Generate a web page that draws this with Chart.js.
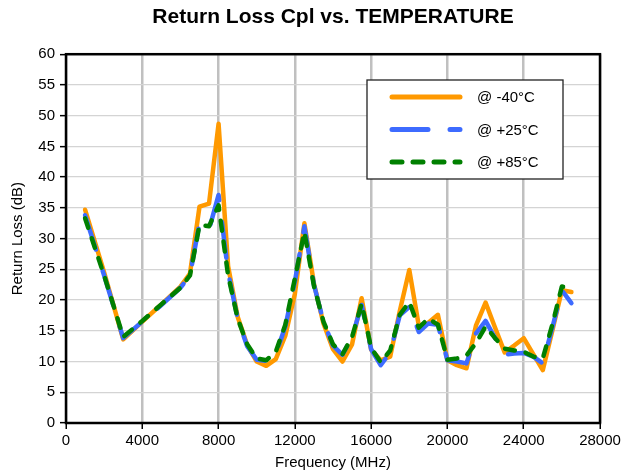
<!DOCTYPE html>
<html>
<head>
    <title>Return Loss Cpl vs. TEMPERATURE</title>
    <style>
        body { margin: 0; background: #fff; }
        #chart { display: block; }
    </style>
</head>
<body>
    <canvas id="chart" width="629" height="476"></canvas>

    <script src="https://cdn.jsdelivr.net/npm/chart.js"></script>
    <script>
        // Data
        const freq = [1000, 2000, 3000, 4000, 5000, 6000, 6500, 7000, 7500, 8000,
                      8500, 9000, 9500, 10000, 10500, 11000, 11500, 12000, 12500, 13000,
                      13500, 14000, 14500, 15000, 15500, 16000, 16500, 17000, 17500, 18000,
                      18500, 19000, 19500, 20000, 20500, 21000, 21500, 22000, 22500, 23000,
                      23500, 24000, 24500, 25000, 25500, 26000, 26500];
        const rlMinus40 = [34.7, 24.5, 13.6, 16.5, 19.3, 22.2, 24.3, 35.2, 35.7, 48.7,
                           25.5, 17.3, 12.7, 10.0, 9.3, 10.4, 14.2, 21.0, 32.5, 22.7,
                           16.2, 12.0, 10.0, 12.8, 20.3, 11.9, 10.2, 10.8, 18.2, 24.9,
                           15.8, 16.3, 17.6, 10.2, 9.4, 8.9, 15.9, 19.6, 15.5, 11.5,
                           12.6, 13.8, 11.2, 8.6, 15.0, 21.6, 21.3];
        const rlPlus25 = [33.8, 24.0, 13.8, 16.5, 19.2, 22.0, 24.0, 32.5, 31.5, 37.1,
                          24.5, 17.0, 12.5, 10.3, 10.1, 11.2, 15.7, 23.0, 32.0, 22.5,
                          16.5, 12.6, 11.1, 14.0, 19.2, 12.0, 9.4, 11.5, 17.5, 18.9,
                          14.8, 16.2, 16.0, 10.2, 10.0, 9.7, 14.6, 16.6, 13.8, 11.1,
                          11.3, 11.4, 10.8, 9.7, 15.5, 21.6, 19.5];
        const rlPlus85 = [33.3, 24.0, 14.0, 16.6, 19.3, 22.0, 24.0, 32.2, 32.0, 35.4,
                          24.0, 17.0, 12.8, 10.5, 10.2, 11.6, 16.0, 23.5, 31.1, 22.3,
                          16.5, 12.8, 11.2, 14.0, 19.4, 12.2, 9.9, 11.8, 17.6, 19.7,
                          15.5, 17.0, 16.0, 10.3, 10.5, 11.0, 13.0, 15.7, 13.8, 12.1,
                          11.8, 11.6, 10.8, 10.5, 16.0, 22.2, 21.9];
        const seriesLabels = ['@ -40°C', '@ +25°C', '@ +85°C'];

        const FONT = '"Liberation Sans", Arial, sans-serif';

        function points(values) {
            return freq.map((f, i) => ({ x: f, y: values[i] }));
        }

        // Frame around the plot area plus an Excel style legend box
        const frameAndLegend = {
            id: 'frameAndLegend',
            afterDraw(chart) {
                const ctx = chart.ctx;
                const a = chart.chartArea;
                ctx.save();
                ctx.strokeStyle = '#000';
                ctx.lineWidth = 2.5;
                ctx.strokeRect(a.left, a.top, a.right - a.left, a.bottom - a.top);

                // legend
                const bx = 367, by = 80, bw = 196, bh = 99;
                ctx.fillStyle = '#fff';
                ctx.fillRect(bx, by, bw, bh);
                ctx.lineWidth = 1.3;
                ctx.strokeStyle = '#222';
                ctx.strokeRect(bx, by, bw, bh);

                const rows = [97, 129.5, 162];
                chart.data.datasets.forEach((ds, i) => {
                    const y = rows[i];
                    ctx.beginPath();
                    ctx.setLineDash(ds.borderDash || []);
                    ctx.lineCap = 'round';
                    ctx.strokeStyle = ds.borderColor;
                    ctx.lineWidth = 5;
                    ctx.moveTo(392, y);
                    ctx.lineTo(460, y);
                    ctx.stroke();
                    ctx.setLineDash([]);
                    ctx.fillStyle = '#000';
                    ctx.font = '15px ' + FONT;
                    ctx.textBaseline = 'middle';
                    ctx.textAlign = 'left';
                    ctx.fillText(ds.label, 477, y + 1);
                });
                ctx.restore();
            }
        };

        const ctx = document.getElementById('chart').getContext('2d');
        const chart = new Chart(ctx, {
            type: 'line',
            data: {
                datasets: [
                    {
                        label: seriesLabels[0],
                        data: points(rlMinus40),
                        borderColor: '#ff9900',
                        borderWidth: 4.5,
                        order: 3
                    },
                    {
                        label: seriesLabels[1],
                        data: points(rlPlus25),
                        borderColor: '#3d6bff',
                        borderWidth: 4.5,
                        borderDash: [36, 22],
                        order: 2
                    },
                    {
                        label: seriesLabels[2],
                        data: points(rlPlus85),
                        borderColor: '#008000',
                        borderWidth: 4.5,
                        borderDash: [10, 11],
                        order: 1
                    }
                ]
            },
            options: {
                responsive: false,
                animation: false,
                devicePixelRatio: 1,
                layout: { padding: { left: 6, right: 29, top: 0, bottom: 0 } },
                elements: {
                    point: { radius: 0 },
                    line: { tension: 0, borderCapStyle: 'round', borderJoinStyle: 'round', fill: false }
                },
                plugins: {
                    legend: { display: false },
                    tooltip: { enabled: false },
                    title: {
                        display: true,
                        text: 'Return Loss Cpl vs. TEMPERATURE',
                        fullSize: false,
                        color: '#000',
                        font: { family: FONT, size: 21, weight: 'bold' },
                        padding: { top: 5, bottom: 24 }
                    }
                },
                scales: {
                    x: {
                        type: 'linear',
                        min: 0,
                        max: 28000,
                        afterFit(s) { s.height = 53; },
                        ticks: {
                            stepSize: 4000,
                            color: '#000',
                            padding: 3,
                            maxRotation: 0,
                            font: { family: FONT, size: 15 },
                            callback: v => String(v)
                        },
                        grid: {
                            color: '#c0c0c0',
                            lineWidth: 2.5,
                            tickColor: '#000',
                            tickWidth: 1.5,
                            tickLength: 6
                        },
                        border: { display: false },
                        title: {
                            display: true,
                            text: 'Frequency (MHz)',
                            color: '#000',
                            font: { family: FONT, size: 15 },
                            padding: 4
                        }
                    },
                    y: {
                        min: 0,
                        max: 60,
                        afterFit(s) { s.width = 60; },
                        ticks: {
                            stepSize: 5,
                            color: '#000',
                            padding: 5,
                            font: { family: FONT, size: 15 }
                        },
                        grid: {
                            color: '#d4d4d4',
                            lineWidth: 1.3,
                            tickColor: '#000',
                            tickWidth: 1.5,
                            tickLength: 6
                        },
                        border: { display: false },
                        title: {
                            display: true,
                            text: 'Return Loss (dB)',
                            color: '#000',
                            font: { family: FONT, size: 15 },
                            padding: 3
                        }
                    }
                }
            },
            plugins: [frameAndLegend]
        });
    </script>
</body>
</html>
